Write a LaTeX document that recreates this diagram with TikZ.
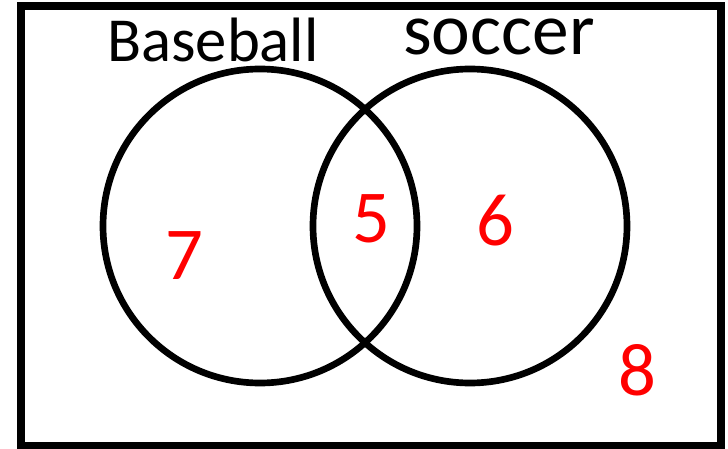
\documentclass[tikz,border=0pt]{standalone}
\usepackage{fontspec}
\setmainfont{Carlito}
\usetikzlibrary{positioning}

\begin{document}
\begin{tikzpicture}[
  x=0.75pt, y=-0.75pt,
  set/.style={draw=black, circle, line width=5pt, minimum size=235.5pt, inner sep=0pt},
  lbl/.style={anchor=base, inner sep=0pt},
  num/.style={anchor=base, inner sep=0pt, text=red, font=\fontsize{56}{56}\selectfont}]
\useasboundingbox (0,0) rectangle (728,449);
% universe
\draw[line width=5.3pt] (21,6) rectangle (721,446);
% the two sets
\node[set] (base) at (260,226) {};
\node[set] (socc) at (470,226) {};
\node[lbl, font=\fontsize{47}{47}\selectfont] (baselbl) at (213,62) {Baseball};
\node[lbl, font=\fontsize{55}{55}\selectfont] (socclbl) at (499,55) {soccer};
% counts
\node[num] (onlybase) at (184,279) {7};
\node[num] (both) at (371,242) {5};
\node[num] (onlysocc) at (495,245) {6};
\node[num] (neither) at (637,395) {8};
\end{tikzpicture}
\end{document}
